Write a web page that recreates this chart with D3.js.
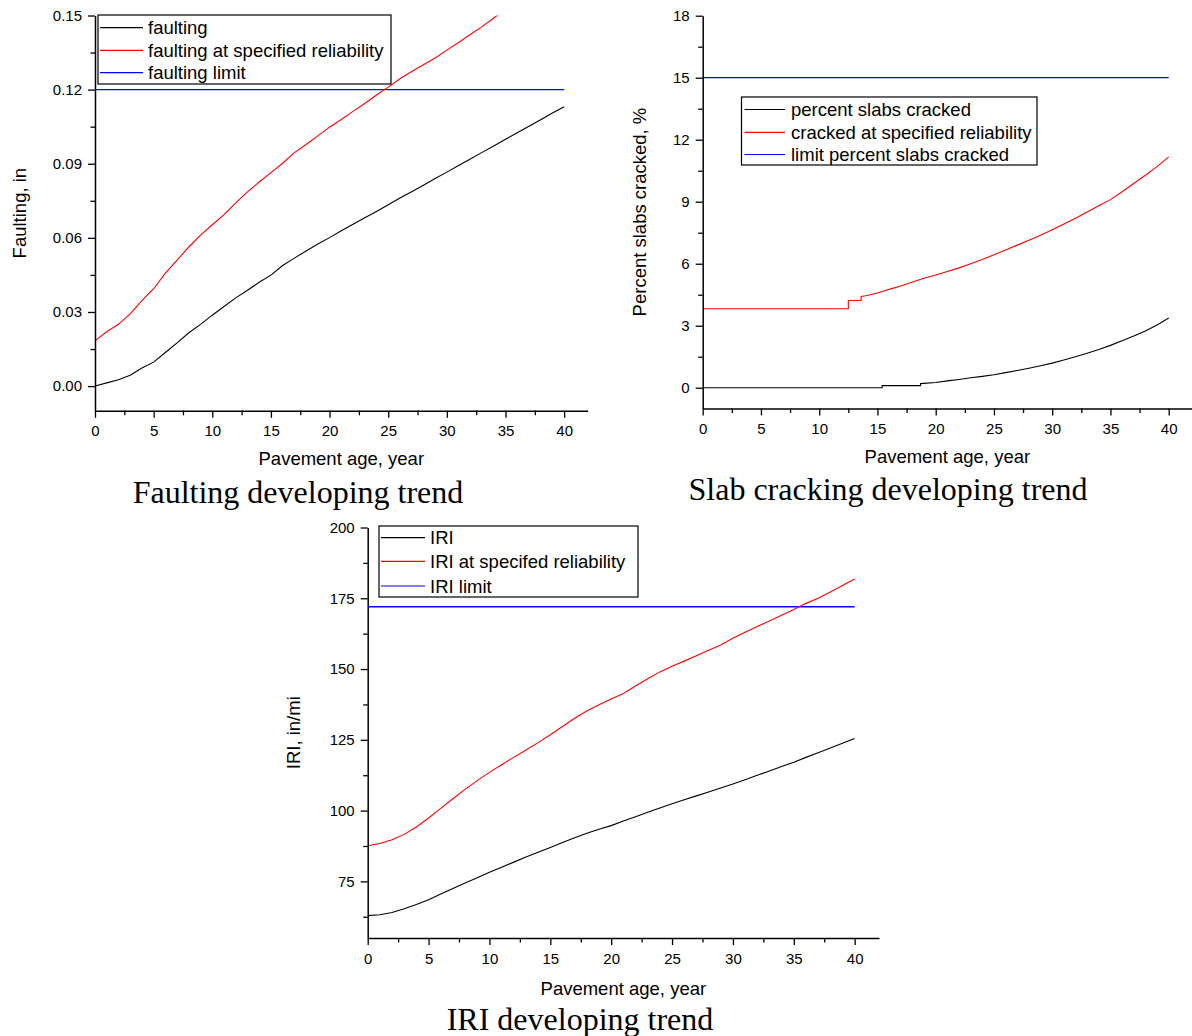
<!DOCTYPE html>
<html>
<head>
<meta charset="utf-8">
<script src="https://cdn.jsdelivr.net/npm/d3@7"></script>
<style>
  html, body { margin: 0; padding: 0; background: #fff; }
  svg { display: block; }
  text { font-family: "Liberation Sans", Arial, sans-serif; fill: #000; }
  .title { font-family: "Liberation Serif", "Times New Roman", serif; font-size: 32px; }
</style>
</head>
<body>
<svg id="chart" width="1192" height="1036"></svg>
<script>
// ---------------- DATA ----------------
const years = [0,1,2,3,4,5,6,7,8,9,10,11,12,13,14,15,16,17,18,19,20,21,22,23,24,25,26,27,28,29,30,31,32,33,34,35,36,37,38,39,40];

// Faulting, in
const faulting = [0.0000,0.0013,0.0026,0.0044,0.0073,0.0097,0.0136,0.0175,0.0216,0.0250,0.0287,0.0322,0.0357,0.0388,0.0420,0.0449,0.0488,0.0518,0.0547,0.0575,0.0601,0.0629,0.0655,0.0681,0.0707,0.0734,0.0761,0.0787,0.0813,0.0840,0.0866,0.0893,0.0919,0.0946,0.0972,0.0999,0.1025,0.1052,0.1078,0.1105,0.1131];
const faultingRelYears = [0,1,2,3,4,5,6,7,8,9,10,11,12,13,14,15,16,17,18,19,20,21,22,23,24,25,26,27,28,29,30,31,32,33,34,35];
const faultingRel = [0.0183,0.0220,0.0250,0.0292,0.0346,0.0394,0.0457,0.0510,0.0563,0.0611,0.0653,0.0694,0.0742,0.0786,0.0826,0.0864,0.0902,0.0945,0.0978,0.1013,0.1048,0.1079,0.1112,0.1144,0.1178,0.1210,0.1244,0.1273,0.1301,0.1328,0.1360,0.1391,0.1423,0.1455,0.1490,0.1525];
const faultingLimit = 0.12;
const faultingLegend = ["faulting", "faulting at specified reliability", "faulting limit"];

// Percent slabs cracked, %
const crackYears = [0,15.4,15.4,18.7,18.7,20,21,22,23,24,25,26,27,28,29,30,31,32,33,34,35,36,37,38,39,40];
const cracked = [0,0,0.1,0.1,0.2,0.25,0.33,0.40,0.48,0.55,0.63,0.73,0.83,0.94,1.06,1.19,1.34,1.50,1.67,1.85,2.05,2.27,2.50,2.75,3.04,3.37];
const crackRelYears = [0,12.5,12.5,13.6,13.6,14,15,16,17,18,19,20,21,22,23,24,25,26,27,28,29,30,31,32,33,34,35,36,37,38,39,40];
const crackedRel = [3.82,3.82,4.22,4.22,4.42,4.45,4.58,4.76,4.92,5.12,5.30,5.45,5.62,5.80,6.00,6.20,6.43,6.66,6.90,7.13,7.38,7.64,7.92,8.20,8.50,8.80,9.10,9.48,9.88,10.28,10.70,11.17];
const crackLimit = 15;
const crackLegend = ["percent slabs cracked", "cracked at specified reliability", "limit percent slabs cracked"];

// IRI, in/mi
const iri = [62.9,63.2,64.0,65.3,66.8,68.5,70.5,72.5,74.4,76.3,78.2,80.0,81.8,83.6,85.3,87.0,88.7,90.4,92.0,93.4,94.7,96.3,97.8,99.4,100.9,102.4,103.8,105.2,106.6,108.0,109.4,110.9,112.5,114.0,115.6,117.1,118.8,120.4,122.1,123.8,125.5];
const iriRel = [87.6,88.4,89.7,91.6,94.2,97.4,100.8,104.2,107.5,110.6,113.5,116.2,118.8,121.4,124.0,126.8,129.7,132.6,135.2,137.4,139.4,141.4,144.0,146.6,149.0,151.0,152.8,154.7,156.6,158.5,160.9,163.0,165.0,167.0,169.0,171.0,173.2,175.0,177.2,179.5,181.8];
const iriLimit = 172;
const iriLegend = ["IRI", "IRI at specifed reliability", "IRI limit"];

// Tick values
const xMajor = [0,5,10,15,20,25,30,35,40];
const xMinor = [2.5,7.5,12.5,17.5,22.5,27.5,32.5,37.5];
const faultYMajor = [0,0.03,0.06,0.09,0.12,0.15];
const faultYMinor = [0.015,0.045,0.075,0.105,0.135];
const crackYMajor = [0,3,6,9,12,15,18];
const crackYMinor = [1.5,4.5,7.5,10.5,13.5,16.5];
const iriYMajor = [75,100,125,150,175,200];
const iriYMinor = [62.5,87.5,112.5,137.5,162.5,187.5];

const xLabel = "Pavement age, year";
const titles = ["Faulting developing trend", "Slab cracking developing trend", "IRI developing trend"];

// ---------------- DRAW ----------------
const svg = d3.select("#chart");

function panel(cfg) {
  const g = svg.append("g");
  const x = d3.scaleLinear().domain([0, 42]).range([cfg.left, cfg.right]);
  const y = d3.scaleLinear().domain(cfg.yDomain).range([cfg.bottom, cfg.top]);

  const clipId = "clip" + cfg.id;
  svg.append("defs").append("clipPath").attr("id", clipId)
    .append("rect").attr("x", cfg.left).attr("y", cfg.top)
    .attr("width", cfg.right - cfg.left).attr("height", cfg.bottom - cfg.top);

  const plot = g.append("g").attr("clip-path", `url(#${clipId})`);
  const line = d3.line().x(d => x(d[0])).y(d => y(d[1]));

  // limit line
  plot.append("path")
    .attr("d", line([[0, cfg.limit], [40, cfg.limit]]))
    .attr("fill", "none").attr("stroke", "#0000ff").attr("stroke-width", 1.3);
  // reliability line
  plot.append("path")
    .attr("d", line(d3.zip(cfg.relX, cfg.relY)))
    .attr("fill", "none").attr("stroke", "#ff0000").attr("stroke-width", 1.1);
  // mean line
  plot.append("path")
    .attr("d", line(d3.zip(cfg.meanX, cfg.meanY)))
    .attr("fill", "none").attr("stroke", "#000000").attr("stroke-width", 1.1);

  // axes
  g.append("g").attr("transform", `translate(0,${cfg.bottom})`)
    .call(d3.axisBottom(x).tickValues(xMajor).tickSize(7).tickSizeOuter(0).tickPadding(8).tickFormat(d3.format("d")));
  g.append("g").attr("transform", `translate(0,${cfg.bottom})`)
    .call(d3.axisBottom(x).tickValues(xMinor).tickSize(4.5).tickSizeOuter(0).tickFormat(""))
    .select(".domain").remove();
  g.append("g").attr("transform", `translate(${cfg.left},0)`)
    .call(d3.axisLeft(y).tickValues(cfg.yMajor).tickSize(7).tickSizeOuter(0).tickPadding(6).tickFormat(cfg.yFormat));
  g.append("g").attr("transform", `translate(${cfg.left},0)`)
    .call(d3.axisLeft(y).tickValues(cfg.yMinor).tickSize(4.5).tickSizeOuter(0).tickFormat(""))
    .select(".domain").remove();

  g.selectAll(".domain").attr("stroke", "#000").attr("stroke-width", 1.5);
  g.selectAll(".tick line").attr("stroke", "#000").attr("stroke-width", 1.3);
  g.selectAll(".tick text").attr("font-size", 15).attr("font-family", '"Liberation Sans", Arial, sans-serif').attr("fill", "#000");

  // axis titles
  g.append("text").attr("x", (cfg.left + cfg.right) / 2).attr("y", cfg.xLabelY)
    .attr("text-anchor", "middle").attr("font-size", 18.5).text(xLabel);
  g.append("text")
    .attr("transform", `translate(${cfg.yLabelX},${(cfg.top + cfg.bottom) / 2}) rotate(-90)`)
    .attr("text-anchor", "middle").attr("font-size", 18.5).text(cfg.yLabel);

  // legend
  const L = cfg.legend;
  g.append("rect").attr("x", L.x0).attr("y", L.y0).attr("width", L.x1 - L.x0).attr("height", L.y1 - L.y0)
    .attr("fill", "#fff").attr("stroke", "#000").attr("stroke-width", 1.2);
  const colors = ["#000000", "#ff0000", "#0000ff"];
  cfg.legendText.forEach((t, i) => {
    const ly = L.rows[i];
    g.append("line").attr("x1", L.lx0).attr("x2", L.lx1).attr("y1", ly).attr("y2", ly)
      .attr("stroke", colors[i]).attr("stroke-width", 1.2);
    g.append("text").attr("x", L.tx).attr("y", ly + 6.5).attr("font-size", 18.5).text(t);
  });

  // panel title
  svg.append("text").attr("class", "title").attr("x", cfg.titleX).attr("y", cfg.titleY)
    .attr("text-anchor", "middle").text(cfg.title);
}

panel({
  id: 1, left: 95, right: 587.6, top: 15.5, bottom: 410.8,
  yDomain: [-0.01, 0.15], yMajor: faultYMajor, yMinor: faultYMinor, yFormat: d3.format(".2f"),
  meanX: years, meanY: faulting, relX: faultingRelYears, relY: faultingRel, limit: faultingLimit,
  yLabel: "Faulting, in", yLabelX: 26, xLabelY: 465,
  legendText: faultingLegend,
  legend: { x0: 98, x1: 391, y0: 15, y1: 84, rows: [27.7, 50.3, 72.7], lx0: 100, lx1: 143, tx: 148 },
  title: titles[0], titleX: 298, titleY: 503
});

panel({
  id: 2, left: 702.7, right: 1192, top: 15.7, bottom: 408.4,
  yDomain: [-1, 18], yMajor: crackYMajor, yMinor: crackYMinor, yFormat: d3.format("d"),
  meanX: crackYears, meanY: cracked, relX: crackRelYears, relY: crackedRel, limit: crackLimit,
  yLabel: "Percent slabs cracked, %", yLabelX: 646, xLabelY: 463,
  legendText: crackLegend,
  legend: { x0: 741.5, x1: 1037, y0: 97, y1: 165, rows: [109.5, 132.3, 154.5], lx0: 744.5, lx1: 785, tx: 791 },
  title: titles[1], titleX: 888, titleY: 500
});

panel({
  id: 3, left: 367.7, right: 879, top: 527.5, bottom: 938,
  yDomain: [55, 200], yMajor: iriYMajor, yMinor: iriYMinor, yFormat: d3.format("d"),
  meanX: years, meanY: iri, relX: years, relY: iriRel, limit: iriLimit,
  yLabel: "IRI, in/mi", yLabelX: 300, xLabelY: 995,
  legendText: iriLegend,
  legend: { x0: 379, x1: 638, y0: 526, y1: 597, rows: [537.7, 561.3, 586], lx0: 381, lx1: 425, tx: 430 },
  title: titles[2], titleX: 580, titleY: 1030
});
</script>
</body>
</html>
